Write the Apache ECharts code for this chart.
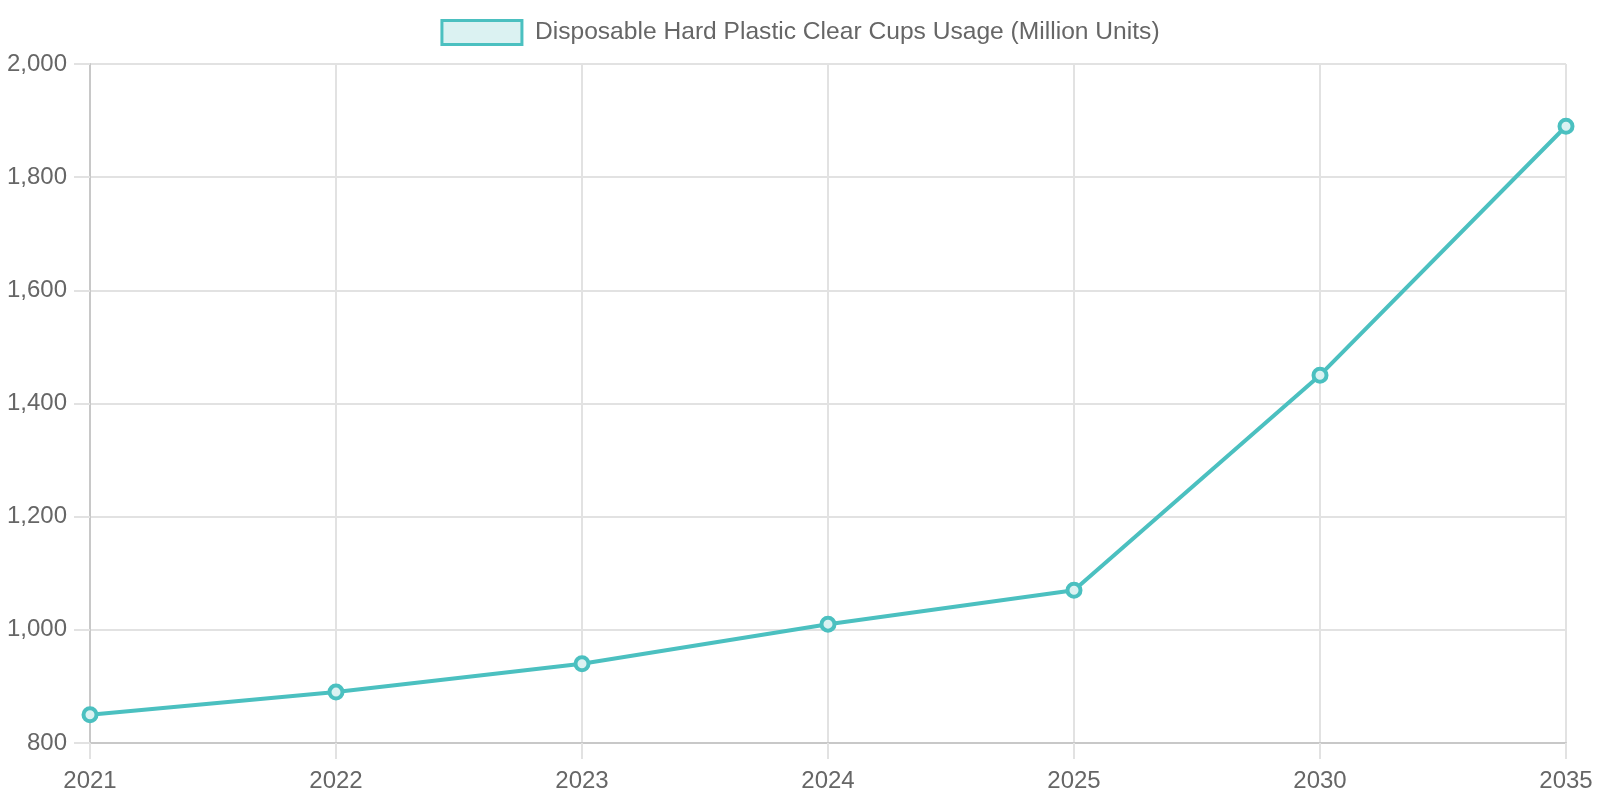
<!DOCTYPE html>
<html>
<head>
<meta charset="utf-8">
<script src="https://cdn.jsdelivr.net/npm/echarts@6/dist/echarts.min.js"></script>
<style>html,body{margin:0;padding:0;background:#fff}#c{width:1600px;height:800px}</style>
</head>
<body>
<div id="c"></div>
<script>
const categories = ['2021', '2022', '2023', '2024', '2025', '2030', '2035'];
const usage = [850, 890, 940, 1010, 1070, 1450, 1890];
const seriesName = 'Disposable Hard Plastic Clear Cups Usage (Million Units)';
const yMin = 800, yMax = 2000, yStep = 200;

const chart = echarts.init(document.getElementById('c'));
const font = '"Liberation Sans", Arial, Helvetica, sans-serif';
chart.setOption({
  animation: false,
  backgroundColor: '#fff',
  textStyle: { fontFamily: font },
  legend: {
    top: 19,
    left: 'center',
    itemWidth: 80,
    itemHeight: 24,
    icon: 'rect',
    padding: 0,
    itemStyle: { color: 'rgba(75,192,192,0.2)', borderColor: '#4bc0c0', borderWidth: 3 },
    textStyle: { fontSize: 24.6, color: '#666', fontFamily: font, padding: [0, 0, 0, 8] },
    data: [seriesName]
  },
  grid: { left: 90, right: 34, top: 64, bottom: 57, containLabel: false },
  xAxis: {
    type: 'category',
    data: categories,
    boundaryGap: false,
    axisLine: { show: true, lineStyle: { color: '#c8c8c8', width: 2 } },
    axisTick: { show: true, length: 16, lineStyle: { color: '#e2e2e2', width: 2 } },
    axisLabel: { fontSize: 24, color: '#666', margin: 26, fontFamily: font },
    splitLine: { show: true, lineStyle: { color: '#e2e2e2', width: 2 } }
  },
  yAxis: {
    type: 'value',
    min: yMin, max: yMax, interval: yStep,
    axisLine: { show: true, lineStyle: { color: '#c8c8c8', width: 2 } },
    axisTick: { show: true, length: 16, lineStyle: { color: '#e2e2e2', width: 2 } },
    axisLabel: { fontSize: 24, color: '#666', margin: 23, fontFamily: font,
      formatter: v => v.toLocaleString('en-US') },
    splitLine: { show: true, lineStyle: { color: '#e2e2e2', width: 2 } }
  },
  series: [{
    name: seriesName,
    type: 'line',
    data: usage,
    color: '#4bc0c0',
    lineStyle: { color: '#4bc0c0', width: 4 },
    symbol: 'circle',
    symbolSize: 13,
    showSymbol: true,
    itemStyle: { color: 'rgba(219,242,242,1)', borderColor: '#4bc0c0', borderWidth: 4 }
  }]
});
</script>
</body>
</html>
